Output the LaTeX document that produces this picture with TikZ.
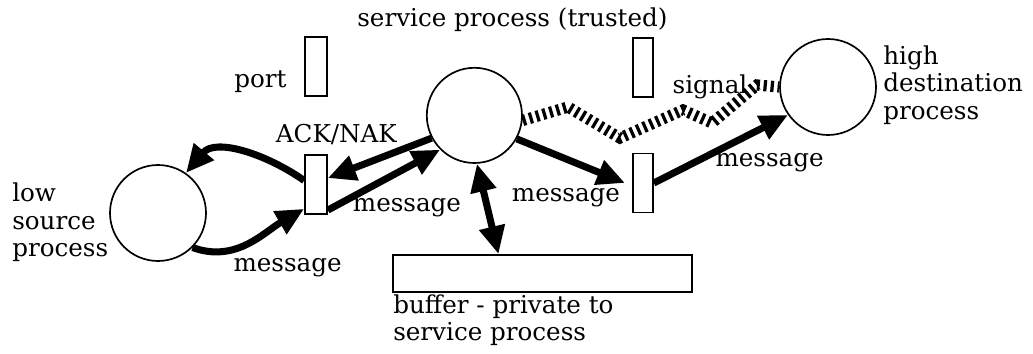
\documentclass[tikz,border=0pt]{standalone}
\usepackage{fontspec}
\setmainfont{DejaVu Serif}
\usetikzlibrary{arrows.meta}

\begin{document}
\begin{tikzpicture}[
	proc/.style={circle, draw, line width=1.2pt, minimum size=2.4cm, inner sep=0pt},
	portbox/.style={rectangle, draw, line width=1.2pt, minimum width=0.55cm, minimum height=1.475cm, inner sep=0pt},
	msg/.style={line width=5pt, -{Triangle[length=0.7cm,width=0.62cm]}},
	sig/.style={line width=8pt, dash pattern=on 2.3pt off 2.7pt},
	lbl/.style={inner sep=0pt, font=\fontsize{17.5pt}{19.5pt}\selectfont, align=left}
]
	\useasboundingbox (0,0) rectangle (25.825,8.825);

	% Processes
	\node[proc] (low) at (3.95,3.5) {};
	\node[proc, minimum size=2.38cm] (serv) at (11.86,5.94) {};
	\node[proc] (high) at (20.7,6.65) {};

	% Ports
	\node[portbox] (port) at (7.9,7.1625) {};
	\node[portbox] (ack) at (7.9,4.2125) {};
	\node[portbox, minimum width=0.5cm] (sigport) at (16.075,7.1375) {};
	\node[portbox, minimum width=0.5cm] (outport) at (16.075,4.25) {};

	% Buffer
	\node[portbox, minimum width=7.475cm, minimum height=0.925cm] (buf) at (13.5625,1.9875) {};

	% Labels
	\node[lbl] (servlbl) at (12.81,8.325) {service process (trusted)};
	\node[lbl] (portlbl) at (6.51,6.78) {port};
	\node[lbl] (acklbl) at (8.41,5.45) {ACK/NAK};
	\node[lbl, anchor=west] (lowlbl) at (0.3,3.26) {low\\source\\process};
	\node[lbl, anchor=west] (highlbl) at (22.075,6.7) {high\\destination\\process};
	\node[lbl, anchor=west] (buflbl) at (9.825,0.825) {buffer - private to\\service process};
	\node[lbl] (msga) at (7.19,2.14) {message};
	\node[lbl] (msgb) at (10.175,3.625) {message};
	\node[lbl] (msgc) at (14.15,3.89) {message};
	\node[lbl] (msgd) at (19.24,4.76) {message};
	\node[lbl] (siglbl) at (17.75,6.65) {signal};

	% Messages
	\draw[msg] ([yshift=0.1cm]ack.west) to[out=145,in=50] (low.55);
	\draw[msg] (low.-45) to[out=-20,in=210] ([yshift=0.15cm]ack.south west);
	\draw[msg] (serv.208) -- ([yshift=0.16cm]ack.east);
	\draw[msg] ([yshift=-0.64cm]ack.east) -- (serv.225);
	\draw[msg, {Triangle[length=0.7cm,width=0.62cm]}-{Triangle[length=0.7cm,width=0.62cm]}] (serv.-87) -- ([xshift=-1.1cm]buf.north);
	\draw[msg] (serv.-29) -- ([xshift=-0.18cm]outport.west);
	\draw[msg] (outport.east) -- (high.215);

	% Signal
	\draw[sig] (serv.-6) -- (14.2,6.15) -- (15.5,5.375) -- (17.075,6.075) -- (17.8,5.75) -- (18.925,6.7) -- (high.west);
\end{tikzpicture}
\end{document}
